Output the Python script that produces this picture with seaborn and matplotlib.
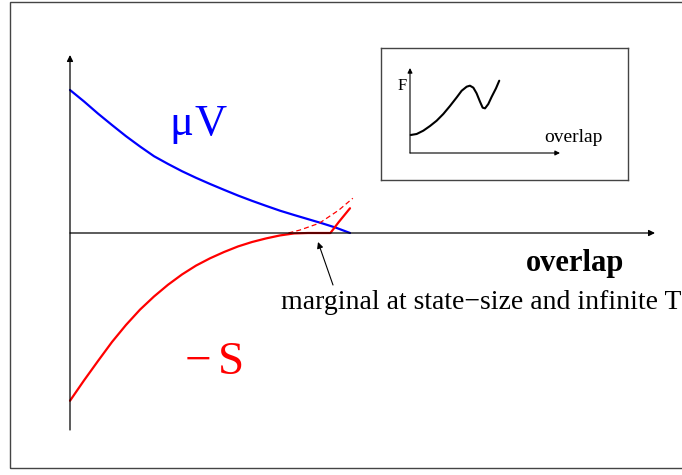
import numpy as np
import pandas as pd
import matplotlib
matplotlib.use('Agg')
import matplotlib.pyplot as plt
from matplotlib.patches import Rectangle
import seaborn as sns

# main sketch: overlap on x, energy / entropy terms on y
overlap = [0.0, 0.05, 0.1, 0.15, 0.2, 0.25, 0.3, 0.35, 0.4, 0.45, 0.5,
           0.55, 0.6, 0.65, 0.7, 0.75, 0.8, 0.85, 0.9, 0.95, 1.0]
mu_v = [1.0, 0.92, 0.835, 0.755, 0.677, 0.605, 0.537, 0.483, 0.432, 0.386, 0.343,
        0.302, 0.262, 0.225, 0.19, 0.156, 0.126, 0.097, 0.068, 0.037, 0.0]

overlap_s = [0.0, 0.05, 0.1, 0.15, 0.2, 0.25, 0.3, 0.35, 0.4, 0.45, 0.5,
             0.55, 0.6, 0.65, 0.7, 0.75, 0.8, 0.85, 0.9, 0.93, 0.96, 1.0]
minus_s = [-1.173, -1.031, -0.895, -0.762, -0.643, -0.536, -0.444, -0.362, -0.290, -0.228, -0.177,
           -0.133, -0.094, -0.063, -0.038, -0.017, -0.003, 0.0, 0.0, 0.0, 0.077, 0.173]

overlap_dash = [0.78, 0.82, 0.89, 0.96, 1.01]
minus_s_dash = [0.0, 0.02, 0.068, 0.16, 0.243]

# inset: free energy vs overlap
inset_q = [0.005, 0.045, 0.09, 0.135, 0.18, 0.225, 0.27, 0.316, 0.349, 0.383, 0.405,
           0.428, 0.45, 0.473, 0.491, 0.507, 0.529, 0.552, 0.581, 0.603]
inset_f = [0.217, 0.229, 0.269, 0.325, 0.389, 0.47, 0.566, 0.671, 0.75, 0.799, 0.811,
           0.787, 0.719, 0.618, 0.546, 0.538, 0.59, 0.678, 0.779, 0.871]

sns.set_theme(style='white')
plt.rcParams['font.family'] = ['Liberation Serif', 'DejaVu Serif']
plt.rcParams['text.color'] = 'black'

W, H = 682, 475
fig = plt.figure(figsize=(W / 100, H / 100), dpi=100)


def px(x, y):
    # picture pixels -> main data coords
    return (x - 70) / 280, (233 - y) / 143


ax = fig.add_axes([0, 0, 1, 1])
ax.set_xlim(-70 / 280, (W - 70) / 280)
ax.set_ylim((233 - H) / 143, 233 / 143)
ax.axis('off')

# outer frame
fig.patches.append(Rectangle((10 / W, 7 / H), 1.0, 466 / H, transform=fig.transFigure,
                             fill=False, edgecolor='#444444', lw=1.0))

# axes with arrows
arr = dict(arrowstyle='-|>', lw=0.9, color='black', mutation_scale=9, shrinkA=0, shrinkB=0)
ax.annotate('', xy=px(70, 55), xytext=px(70, 430), arrowprops=arr)
ax.annotate('', xy=px(655, 233), xytext=px(70, 233), arrowprops=arr)

sns.lineplot(x=overlap, y=mu_v, color='blue', lw=1.6, ax=ax)
sns.lineplot(x=overlap_dash, y=minus_s_dash, color='red', lw=0.9, linestyle=(0, (4, 2.5)), ax=ax)
sns.lineplot(x=overlap_s, y=minus_s, color='red', lw=1.6, ax=ax)

ax.text(*px(181, 135), '\u03bc', color='blue', fontsize=32, ha='center', va='baseline')
ax.text(*px(211, 135), 'V', color='blue', fontsize=32, ha='center', va='baseline')
ax.text(*px(198, 374), '\u2212', color='red', fontsize=34, ha='center', va='baseline')
ax.text(*px(231, 374), 'S', color='red', fontsize=34, ha='center', va='baseline')
ax.text(*px(575, 271), 'overlap', fontsize=22, fontweight='bold', ha='center', va='baseline')
ax.text(*px(481.5, 309), 'marginal at state\u2212size and infinite T',
        fontsize=20, ha='center', va='baseline')
ax.annotate('', xy=px(318, 242), xytext=px(333, 285),
            arrowprops=dict(arrowstyle='-|>', lw=0.8, color='black', mutation_scale=9,
                            shrinkA=0, shrinkB=0))

# inset box: px x 381..628, y 48..180 ; inner coords u=(px-410)/148, v=(153-py)/83
bx0, bx1, by0, by1 = 381, 628, 48, 180
ins = fig.add_axes([bx0 / W, 1 - by1 / H, (bx1 - bx0) / W, (by1 - by0) / H])
ins.set_xlim((bx0 - 410) / 148, (bx1 - 410) / 148)
ins.set_ylim((153 - by1) / 83, (153 - by0) / 83)
ins.set_xticks([])
ins.set_yticks([])
for s in ins.spines.values():
    s.set_visible(True)
    s.set_color('#444444')
    s.set_linewidth(1.0)
ins.patch.set_alpha(0)


def ipx(x, y):
    return (x - 410) / 148, (153 - y) / 83


arr2 = dict(arrowstyle='-|>', lw=0.8, color='black', mutation_scale=7, shrinkA=0, shrinkB=0)
ins.annotate('', xy=ipx(410, 68), xytext=ipx(410, 153), arrowprops=arr2)
ins.annotate('', xy=ipx(560, 153), xytext=ipx(410, 153), arrowprops=arr2)
sns.lineplot(x=inset_q, y=inset_f, color='black', lw=1.5, ax=ins)
ins.text(*ipx(402, 90), 'F', fontsize=12, ha='center', va='baseline')
ins.text(*ipx(573.5, 142), 'overlap', fontsize=14, ha='center', va='baseline')

fig.savefig('out.png', dpi=100)
